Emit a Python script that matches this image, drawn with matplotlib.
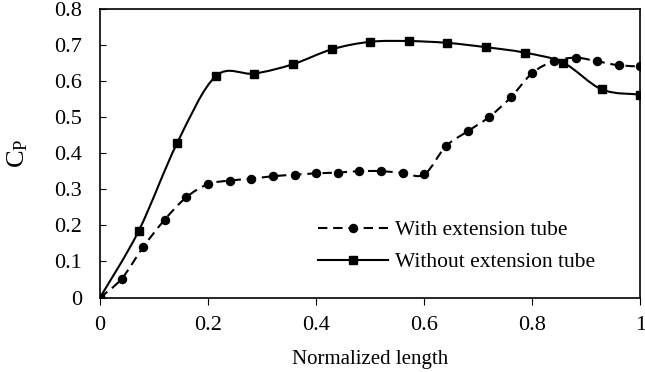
import numpy as np
import matplotlib.pyplot as plt
from matplotlib.path import Path
from matplotlib.patches import PathPatch
from matplotlib.lines import Line2D

plt.rcParams['font.family'] = ['Liberation Serif', 'DejaVu Serif']
plt.rcParams['mathtext.fontset'] = 'custom'
plt.rcParams['mathtext.rm'] = 'Liberation Serif'
plt.rcParams['mathtext.it'] = 'Liberation Serif'

# with extension tube (circles)
x_with = [0, 0.04, 0.08, 0.12, 0.16, 0.20, 0.24, 0.28, 0.32, 0.36, 0.40, 0.44, 0.48,
          0.52, 0.56, 0.60, 0.64, 0.68, 0.72, 0.76, 0.80, 0.84, 0.88, 0.92, 0.96, 1.0]
cp_with = [0, 0.052, 0.140, 0.216, 0.278, 0.314, 0.324, 0.329, 0.336, 0.340, 0.344, 0.346, 0.350,
           0.350, 0.345, 0.341, 0.419, 0.460, 0.500, 0.554, 0.622, 0.654, 0.664, 0.654, 0.643, 0.640]

# without extension tube (squares)
x_without = [0, 1/14, 2/14, 3/14, 4/14, 5/14, 6/14, 7/14, 8/14, 9/14, 10/14, 11/14, 12/14, 13/14, 1.0]
cp_without = [0, 0.184, 0.428, 0.613, 0.620, 0.646, 0.687, 0.708, 0.710, 0.705, 0.693, 0.678,
              0.650, 0.576, 0.562]


def smooth_path(xs, ys):
    # excel-like smoothed line, bezier segments through the points
    p = np.column_stack([xs, ys])
    n = len(p)
    verts = [p[0]]
    codes = [Path.MOVETO]
    for i in range(n - 1):
        p0 = p[i - 1] if i > 0 else p[i]
        p1 = p[i]
        p2 = p[i + 1]
        p3 = p[i + 2] if i + 2 < n else p[i + 1]
        c1 = p1 + (p2 - p0) / 6
        c2 = p2 - (p3 - p1) / 6
        verts += [c1, c2, p2]
        codes += [Path.CURVE4] * 3
    return Path(verts, codes)


fig, ax = plt.subplots(figsize=(6.45, 3.72), dpi=100)
fig.subplots_adjust(left=0.155, right=0.993, top=0.977, bottom=0.2)

dash = (0, (4.5, 2.8))
ax.add_patch(PathPatch(smooth_path(x_with, cp_with), fill=False, color='black', lw=1.5,
                       linestyle=dash))
ax.add_patch(PathPatch(smooth_path(x_without, cp_without), fill=False, color='black', lw=1.5))
ax.plot(x_with, cp_with, 'o', color='black', ms=5.8, ls='none')
ax.plot(x_without, cp_without, 's', color='black', ms=5.8, ls='none')

handles = [Line2D([], [], color='black', lw=1.5, ls=dash, marker='o', ms=5.8),
           Line2D([], [], color='black', lw=1.5, marker='s', ms=5.8)]
ax.legend(handles, ['With extension tube', 'Without extension tube'], frameon=False,
          loc='upper left', bbox_to_anchor=(0.404, 0.268), borderaxespad=0, borderpad=0,
          fontsize=15.5, handlelength=3.25, handletextpad=0.33, labelspacing=0.55)

ax.set_xlim(0, 1)
ax.set_ylim(0, 0.8)
ax.set_xticks([0, 0.2, 0.4, 0.6, 0.8, 1.0])
ax.set_xticklabels(['0', '0.2', '0.4', '0.6', '0.8', '1'])
ax.set_yticks(np.arange(0, 0.81, 0.1))
ax.set_yticklabels(['0'] + ['%.1f' % v for v in np.arange(0.1, 0.81, 0.1)])
ax.tick_params(axis='x', direction='out', length=5, labelsize=16, pad=8)
ax.tick_params(axis='y', direction='in', length=4, labelsize=16, pad=13)
for s in ax.spines.values():
    s.set_linewidth(1.2)

ax.set_xlabel('Normalized length', fontsize=15, labelpad=11)
ax.set_ylabel('C$_\\mathregular{P}$', fontsize=19, labelpad=17)

fig.savefig('out.png')
